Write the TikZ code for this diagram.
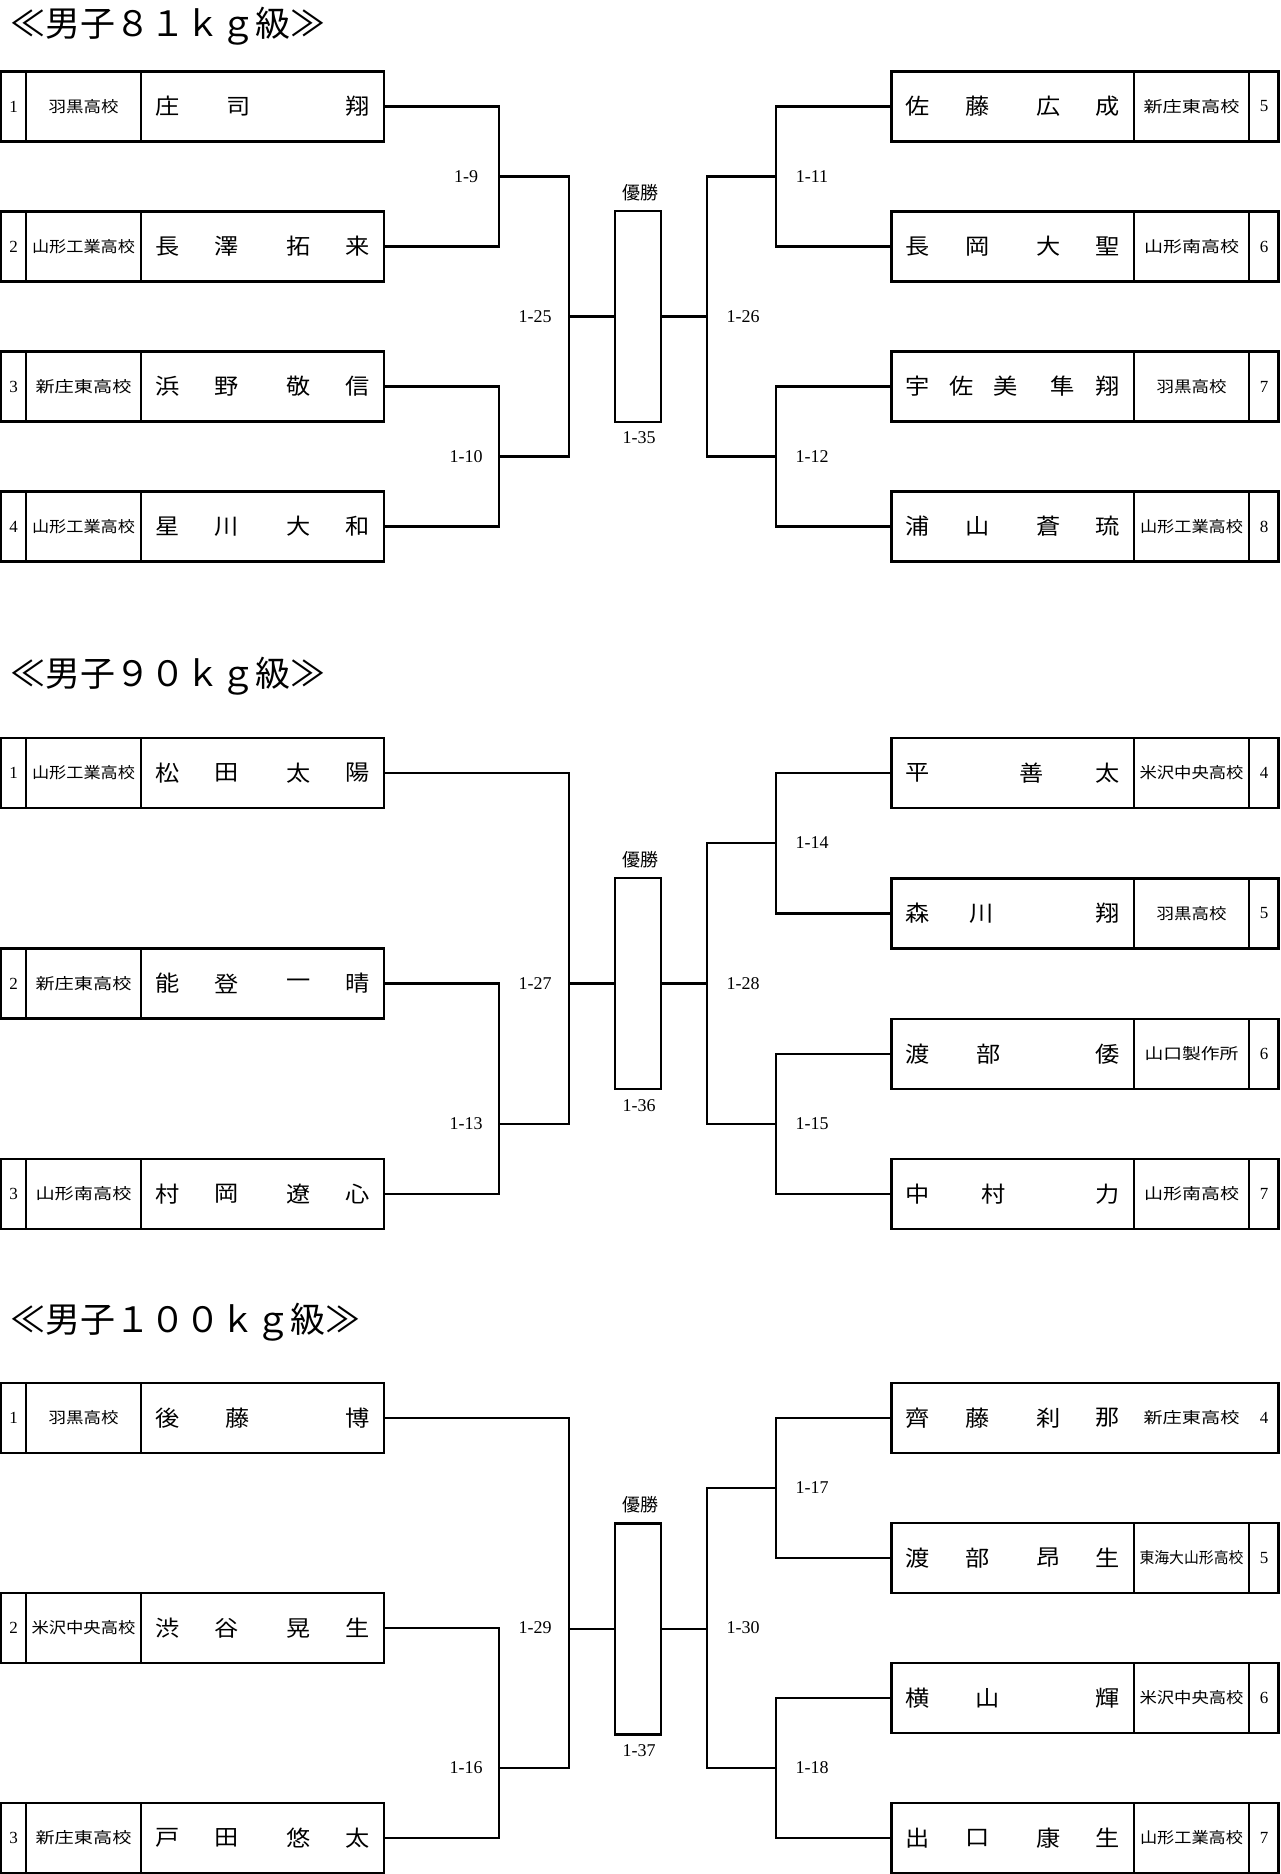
\documentclass[tikz,border=0pt]{standalone}
\usepackage{fontspec}
\usepackage{graphicx}
\setmainfont{Liberation Serif}
\newfontfamily\jpf{Noto Sans CJK JP}
\newdimen\unitpx \unitpx=0.5pt
\tikzset{
  box/.style={draw, line width=1.1pt, inner sep=0pt, minimum height=35pt},
  lbox/.style={box, minimum width=191.5pt},
  rbox/.style={box, minimum width=193.5pt},
  champ/.style={box, minimum width=23pt, minimum height=105.5pt},
  wire/.style={line width=1.1pt},
  nm/.style={inner sep=0pt, font=\jpf\fontsize{11pt}{11pt}\selectfont},
  sch/.style={inner sep=0pt, font=\jpf\fontsize{7.75pt}{8pt}\selectfont},
  num/.style={inner sep=0pt, font=\fontsize{8.5pt}{8.5pt}\selectfont},
  lab/.style={inner sep=0pt, font=\fontsize{9pt}{9pt}\selectfont},
  yusho/.style={inner sep=0pt, font=\jpf\fontsize{9pt}{9pt}\selectfont},
  ttl/.style={inner sep=0pt, anchor=west, font=\jpf\fontsize{17.5pt}{18pt}\selectfont},
}
% left entry: id, y, number, school width (px), school, name list
\newcommand\LEntry[6]{%
  \node[lbox] (#1) at (192.5,#2) {};
  \draw[wire] (26,#2-35) -- (26,#2+35) (141,#2-35) -- (141,#2+35);
  \node[num] (#1n) at (13.5,#2) {#3};
  \node[sch] (#1s) at (83.5,#2) {\resizebox{#4\unitpx}{\height}{#5}};
  \foreach \o/\c [count=\i] in {#6} {\node[nm] (#1c\i) at (141+\o,#2) {\scalebox{1.1}[1]{\c}};}
}
% right entry: [dividers], id, y, number, school width (px), school, name list
\newcommand\REntry[7][1]{%
  \node[rbox] (#2) at (1085,#3) {};
  \ifnum#1=1 \draw[wire] (1134,#3-35) -- (1134,#3+35) (1249,#3-35) -- (1249,#3+35);\fi
  \node[num] (#2n) at (1264,#3) {#4};
  \node[sch] (#2s) at (1191.5,#3) {\resizebox{#5\unitpx}{\height}{#6}};
  \foreach \o/\c [count=\i] in {#7} {\node[nm] (#2c\i) at (891.5+\o,#3) {\scalebox{1.1}[1]{\c}};}
}
\begin{document}
\begin{tikzpicture}[x=0.5pt,y=-0.5pt]
\fill[white] (0,0) rectangle (1280,1874);
\useasboundingbox (0,0) rectangle (1280,1874);

%================ Section 1: 81kg ================
\node[ttl] (T1) at (10,26) {≪男子８１ｋｇ級≫};
\LEntry{L1a}{106.5}{1}{70}{羽黒高校}{26.5/庄,98/司,216.5/翔}
\LEntry{L1b}{246.5}{2}{103}{山形工業高校}{26.5/長,86/澤,157.5/拓,216.5/来}
\LEntry{L1c}{386.5}{3}{96}{新庄東高校}{26.5/浜,86/野,157.5/敬,216.5/信}
\LEntry{L1d}{526.5}{4}{103}{山形工業高校}{26.5/星,86/川,157.5/大,216.5/和}
\REntry{R1a}{106.5}{5}{96}{新庄東高校}{26.5/佐,86/藤,157.5/広,216.5/成}
\REntry{R1b}{246.5}{6}{95}{山形南高校}{26.5/長,86/岡,157.5/大,216.5/聖}
\REntry{R1c}{386.5}{7}{70}{羽黒高校}{26/宇,70/佐,114.5/美,171/隼,216.5/翔}
\REntry{R1d}{526.5}{8}{103}{山形工業高校}{26.5/浦,86/山,157.5/蒼,216.5/琉}
\node[champ] (C1) at (638,316.5) {};
\node[yusho] (Y1) at (640,193) {優勝};
\node[lab] (F1) at (639,438) {1-35};
\coordinate (a1) at (499,176.5);
\coordinate (a2) at (499,456.5);
\coordinate (k1) at (569,316.5);
\coordinate (b1) at (776,176.5);
\coordinate (b2) at (776,456.5);
\coordinate (m1) at (707,316.5);
\draw[wire] (L1a.east) -| (a1) |- (L1b.east);
\draw[wire] (L1c.east) -| (a2) |- (L1d.east);
\draw[wire] (a1) -| (k1) |- (a2);
\draw[wire] (k1) -- (C1.west);
\draw[wire] (R1a.west) -| (b1) |- (R1b.west);
\draw[wire] (R1c.west) -| (b2) |- (R1d.west);
\draw[wire] (b1) -| (m1) |- (b2);
\draw[wire] (C1.east) -- (m1);
\node[lab] (g19) at (466,176.5) {1-9};
\node[lab] (g110) at (466,456.5) {1-10};
\node[lab] (g125) at (535,316.5) {1-25};
\node[lab] (g126) at (743,316.5) {1-26};
\node[lab] (g111) at (812,176.5) {1-11};
\node[lab] (g112) at (812,456.5) {1-12};

%================ Section 2: 90kg ================
\node[ttl] (T2) at (10,676) {≪男子９０ｋｇ級≫};
\LEntry{L2a}{773}{1}{103}{山形工業高校}{26.5/松,86/田,157.5/太,216.5/陽}
\LEntry{L2b}{983.5}{2}{96}{新庄東高校}{26.5/能,86/登,157.5/一,216.5/晴}
\LEntry{L2c}{1194}{3}{96}{山形南高校}{26.5/村,86/岡,157.5/遼,216.5/心}
\REntry{R2a}{773}{4}{104}{米沢中央高校}{26.5/平,140/善,216.5/太}
\REntry{R2b}{913.5}{5}{70}{羽黒高校}{26.5/森,90/川,216.5/翔}
\REntry{R2c}{1054}{6}{94}{山口製作所}{26.5/渡,97/部,216.5/倭}
\REntry{R2d}{1194}{7}{95}{山形南高校}{26.5/中,102/村,216.5/力}
\node[champ] (C2) at (638,983.5) {};
\node[yusho] (Y2) at (640,860) {優勝};
\node[lab] (F2) at (639,1106) {1-36};
\coordinate (a3) at (499,1124);
\coordinate (k2) at (569,983.5);
\coordinate (b3) at (776,843);
\coordinate (b4) at (776,1124);
\coordinate (m2) at (707,983.5);
\draw[wire] (L2a.east) -| (k2) |- (a3);
\draw[wire] (L2b.east) -| (a3) |- (L2c.east);
\draw[wire] (k2) -- (C2.west);
\draw[wire] (R2a.west) -| (b3) |- (R2b.west);
\draw[wire] (R2c.west) -| (b4) |- (R2d.west);
\draw[wire] (b3) -| (m2) |- (b4);
\draw[wire] (C2.east) -- (m2);
\node[lab] (g113) at (466,1124) {1-13};
\node[lab] (g127) at (535,983.5) {1-27};
\node[lab] (g128) at (743,983.5) {1-28};
\node[lab] (g114) at (812,843) {1-14};
\node[lab] (g115) at (812,1124) {1-15};

%================ Section 3: 100kg ================
\node[ttl] (T3) at (10,1322) {≪男子１００ｋｇ級≫};
\LEntry{L3a}{1418}{1}{70}{羽黒高校}{26.5/後,97/藤,216.5/博}
\LEntry{L3b}{1628}{2}{104}{米沢中央高校}{26.5/渋,86/谷,157.5/晃,216.5/生}
\LEntry{L3c}{1838}{3}{96}{新庄東高校}{26.5/戸,86/田,157.5/悠,216.5/太}
\REntry[0]{R3a}{1418}{4}{96}{新庄東高校}{26.5/齊,86/藤,157.5/刹,216.5/那}
\REntry{R3b}{1558}{5}{104}{東海大山形高校}{26.5/渡,86/部,157.5/昂,216.5/生}
\REntry{R3c}{1698}{6}{104}{米沢中央高校}{26.5/横,96/山,216.5/輝}
\REntry{R3d}{1838}{7}{103}{山形工業高校}{26.5/出,86/口,157.5/康,216.5/生}
\node[champ] (C3) at (638,1629) {};
\node[yusho] (Y3) at (640,1505) {優勝};
\node[lab] (F3) at (639,1751) {1-37};
\coordinate (a4) at (499,1768);
\coordinate (k3) at (569,1629);
\coordinate (b5) at (776,1488);
\coordinate (b6) at (776,1768);
\coordinate (m3) at (707,1629);
\draw[wire] (L3a.east) -| (k3) |- (a4);
\draw[wire] (L3b.east) -| (a4) |- (L3c.east);
\draw[wire] (k3) -- (C3.west);
\draw[wire] (R3a.west) -| (b5) |- (R3b.west);
\draw[wire] (R3c.west) -| (b6) |- (R3d.west);
\draw[wire] (b5) -| (m3) |- (b6);
\draw[wire] (C3.east) -- (m3);
\node[lab] (g116) at (466,1768) {1-16};
\node[lab] (g129) at (535,1628) {1-29};
\node[lab] (g130) at (743,1628) {1-30};
\node[lab] (g117) at (812,1488) {1-17};
\node[lab] (g118) at (812,1768) {1-18};
\end{tikzpicture}
\end{document}
